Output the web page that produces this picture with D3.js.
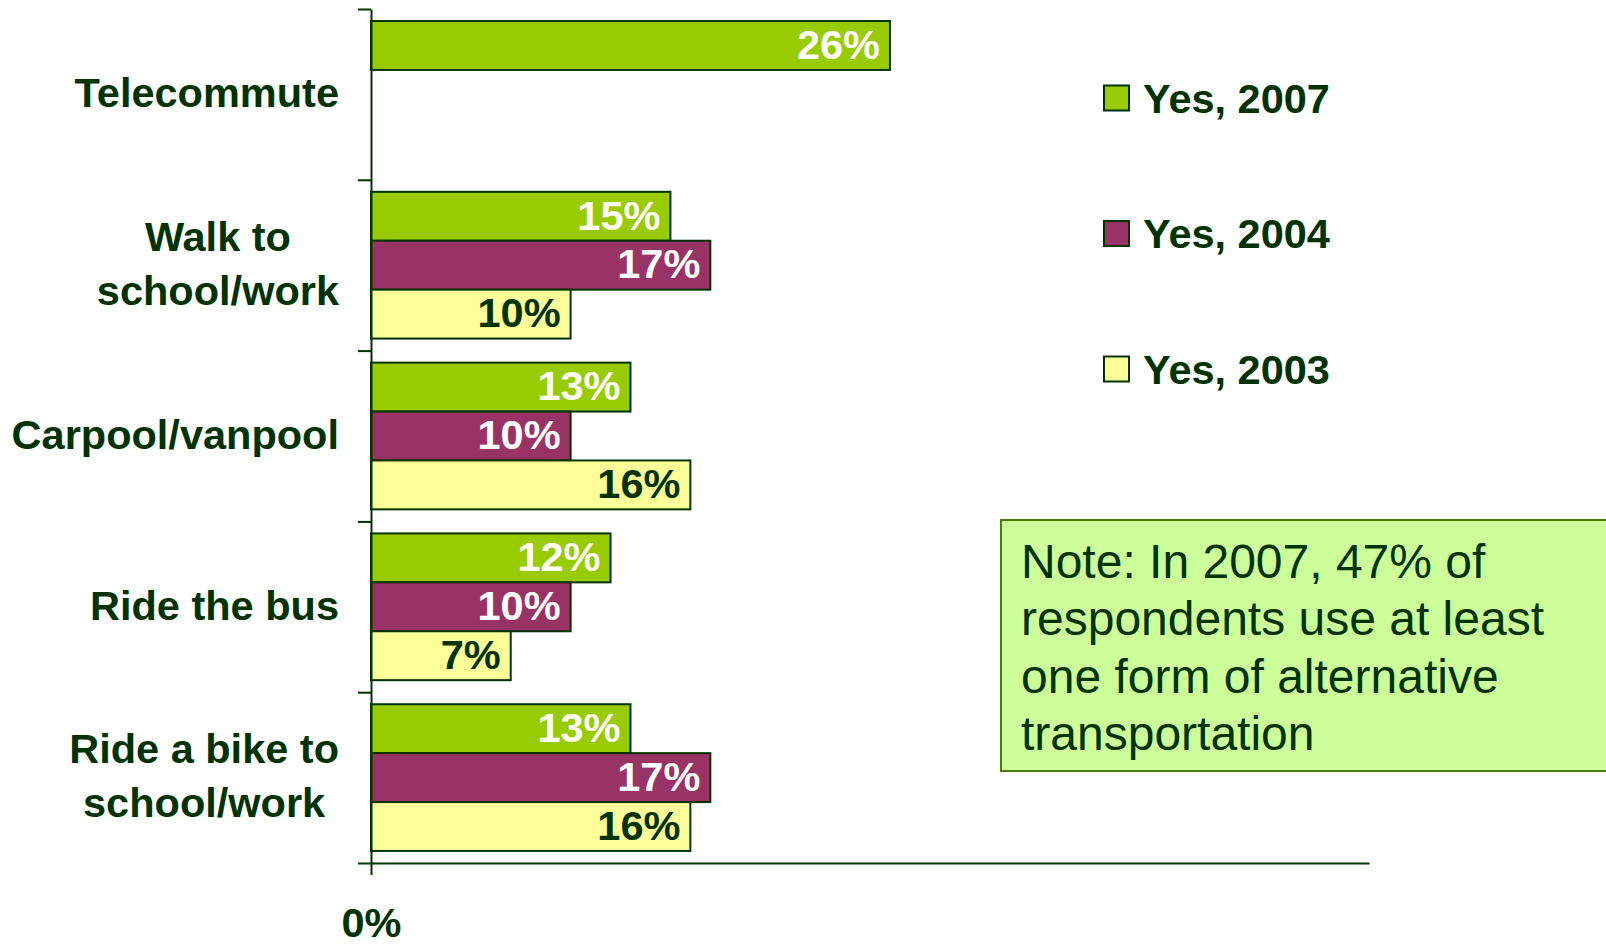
<!DOCTYPE html>
<html>
<head>
<meta charset="utf-8">
<script src="https://cdn.jsdelivr.net/npm/d3@7"></script>
<style>
  body { margin: 0; background: #fff; }
  svg { display: block; font-family: "Liberation Sans", Arial, sans-serif; }
</style>
</head>
<body>
<svg></svg>
<script>
// Chart data
const categories = ['Telecommute', 'Walk to school/work', 'Carpool/vanpool', 'Ride the bus', 'Ride a bike to school/work'];
const categoryLines = [['Telecommute'], ['Walk to', 'school/work'], ['Carpool/vanpool'], ['Ride the bus'], ['Ride a bike to', 'school/work']];
const series = ['Yes, 2007', 'Yes, 2004', 'Yes, 2003'];
const yes2007 = [26, 15, 13, 12, 13];
const yes2004 = [null, 17, 10, 10, 17];
const yes2003 = [null, 10, 16, 7, 16];
const xTicks = [0];
const noteLines = ['Note: In 2007, 47% of', 'respondents use at least', 'one form of alternative', 'transportation'];

const width = 1606, height = 947;
const ink = '#003300';
const colors = { 'Yes, 2007': '#99cc00', 'Yes, 2004': '#993366', 'Yes, 2003': '#ffff99' };
const labelColors = { 'Yes, 2007': '#ffffff', 'Yes, 2004': '#ffffff', 'Yes, 2003': ink };

const svg = d3.select('svg')
    .attr('width', width)
    .attr('height', height);

// Scales
const x = d3.scaleLinear().domain([0, 50]).range([371, 1369]);
const y = d3.scaleBand().domain(categories).range([9, 863]).padding(0);
const ySub = d3.scaleBand().domain(series).range([0, y.bandwidth()]).paddingInner(0).paddingOuter(0.246);
const yEdge = d3.scaleLinear().domain([0, categories.length]).range([9, 863]);

// Flatten into rows
const values = { 'Yes, 2007': yes2007, 'Yes, 2004': yes2004, 'Yes, 2003': yes2003 };
const rows = [];
categories.forEach((c, i) => {
    series.forEach(s => {
        if (values[s][i] != null) rows.push({ category: c, series: s, value: values[s][i] });
    });
});

// Bars
const bars = svg.append('g');
bars.selectAll('rect')
    .data(rows)
    .enter().append('rect')
    .attr('x', x(0))
    .attr('y', d => y(d.category) + ySub(d.series))
    .attr('width', d => x(d.value) - x(0))
    .attr('height', ySub.bandwidth())
    .attr('fill', d => colors[d.series])
    .attr('stroke', ink)
    .attr('stroke-width', 2);

// Value labels inside bar ends
bars.selectAll('text')
    .data(rows)
    .enter().append('text')
    .attr('x', d => x(d.value) - 10)
    .attr('y', d => y(d.category) + ySub(d.series) + ySub.bandwidth() / 2)
    .attr('dy', '0.32em')
    .attr('text-anchor', 'end')
    .attr('fill', d => labelColors[d.series])
    .style('font-size', '41.5px')
    .style('font-weight', 'bold')
    .text(d => d.value + '%');

// Category axis (ticks at band edges)
const yAxis = svg.append('g')
    .attr('transform', `translate(${x(0)},0)`)
    .call(d3.axisLeft(yEdge).ticks(categories.length).tickSize(13).tickSizeOuter(0).tickFormat(''));
yAxis.selectAll('path, line').attr('stroke', ink).attr('stroke-width', 2);

// Value axis
const xAxis = svg.append('g')
    .attr('transform', `translate(0,${yEdge(categories.length)})`)
    .call(d3.axisBottom(x).tickValues(xTicks).tickSize(12).tickSizeOuter(0).tickPadding(33).tickFormat(d => d + '%'));
xAxis.selectAll('path, line').attr('stroke', ink).attr('stroke-width', 2);
xAxis.selectAll('text')
    .attr('fill', ink)
    .style('font-size', '41.5px')
    .style('font-weight', 'bold')
    .style('font-family', '"Liberation Sans", Arial, sans-serif');

// Category labels: lines centred, block right-aligned
const catGroup = svg.append('g');
categories.forEach((c, i) => {
    const lines = categoryLines[i];
    const cy = y(c) + y.bandwidth() / 2;
    const t = catGroup.append('text')
        .attr('text-anchor', 'middle')
        .attr('fill', ink)
        .style('font-size', '41.5px')
        .style('font-weight', 'bold');
    lines.forEach((ln, j) => {
        t.append('tspan')
            .attr('y', cy + (j - (lines.length - 1) / 2) * 54)
            .attr('dy', '0.31em')
            .text(ln);
    });
    let maxW = 0;
    t.selectAll('tspan').each(function() { maxW = Math.max(maxW, this.getComputedTextLength()); });
    t.selectAll('tspan').attr('x', 339 - maxW / 2);
});

// Legend
const legend = svg.append('g').attr('transform', 'translate(1104, 98)');
series.forEach((s, i) => {
    legend.append('rect')
        .attr('x', 0)
        .attr('y', i * 135.5 - 12.5)
        .attr('width', 25)
        .attr('height', 25)
        .attr('fill', colors[s])
        .attr('stroke', ink)
        .attr('stroke-width', 2);
    legend.append('text')
        .attr('x', 39)
        .attr('y', i * 135.5)
        .attr('dy', '0.35em')
        .attr('fill', ink)
        .style('font-size', '41.5px')
        .style('font-weight', 'bold')
        .text(s);
});

// Note box
const note = svg.append('g');
note.append('rect')
    .attr('x', 1001)
    .attr('y', 520)
    .attr('width', 640)
    .attr('height', 251)
    .attr('fill', '#ccff99')
    .attr('stroke', '#4d7a0d')
    .attr('stroke-width', 2);
note.selectAll('text')
    .data(noteLines)
    .enter().append('text')
    .attr('x', 1021)
    .attr('y', (d, i) => 561 + i * 57.4)
    .attr('dy', '0.35em')
    .attr('fill', ink)
    .style('font-size', '48px')
    .text(d => d);
</script>
</body>
</html>
